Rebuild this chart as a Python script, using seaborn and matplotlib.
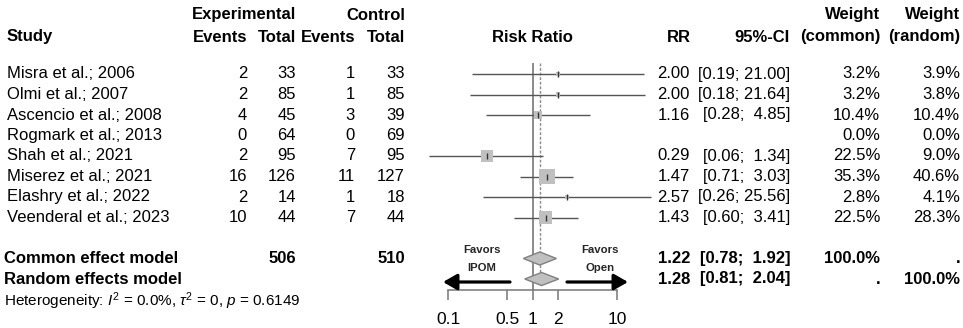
import numpy as np
import matplotlib
matplotlib.use("Agg")
import matplotlib.pyplot as plt
import matplotlib.transforms as mtransforms
import seaborn as sns

# ---------------- data ----------------
studies = ["Misra et al.; 2006", "Olmi et al.; 2007", "Ascencio et al.; 2008",
           "Rogmark et al.; 2013", "Shah et al.; 2021", "Miserez et al.; 2021",
           "Elashry et al.; 2022", "Veenderal et al.; 2023"]
ev_exp = [2, 2, 4, 0, 2, 16, 2, 10]
n_exp = [33, 85, 45, 64, 95, 126, 14, 44]
ev_ctrl = [1, 1, 3, 0, 7, 11, 1, 7]
n_ctrl = [33, 85, 39, 69, 95, 127, 18, 44]
rr = [2.00, 2.00, 1.16, np.nan, 0.29, 1.47, 2.57, 1.43]
ci_lo = [0.19, 0.18, 0.28, np.nan, 0.06, 0.71, 0.26, 0.60]
ci_hi = [21.00, 21.64, 4.85, np.nan, 1.34, 3.03, 25.56, 3.41]
w_common = [3.2, 3.2, 10.4, 0.0, 22.5, 35.3, 2.8, 22.5]
w_random = [3.9, 3.8, 10.4, 0.0, 9.0, 40.6, 4.1, 28.3]
total_exp = 506
total_ctrl = 510
common_est = [1.22, 0.78, 1.92]
random_est = [1.28, 0.81, 2.04]
heterogeneity = r"Heterogeneity: $I^2$ = 0.0%, $\tau^2$ = 0, $p$ = 0.6149"
xticks = [0.1, 0.5, 1, 2, 10]
xticklabels = ["0.1", "0.5", "1", "2", "10"]

# ---------------- style ----------------
sns.set_theme(style="white")
plt.rcParams["font.family"] = ["Liberation Sans", "DejaVu Sans"]
plt.rcParams["mathtext.fontset"] = "custom"
plt.rcParams["mathtext.rm"] = "Liberation Sans"
plt.rcParams["mathtext.it"] = "Liberation Sans:italic"
plt.rcParams["mathtext.bf"] = "Liberation Sans:bold"

W, H = 963, 328
fig = plt.figure(figsize=(W / 100, H / 100), dpi=100)
fig.patch.set_facecolor("white")

row0_px, row_step = 74.0, 20.5
axis_px = 290.0
x_left_px, x_right_px = 448.0, 617.0


def row_of(ypx):
    return (ypx - row0_px) / row_step


ax = fig.add_axes([x_left_px / W, (H - axis_px) / H,
                   (x_right_px - x_left_px) / W, axis_px / H])
ax.set_xscale("log")
ax.set_xlim(0.1, 10)
ax.set_ylim(row_of(axis_px), row_of(0))
ax.set_facecolor("none")
for s in ["top", "left", "right"]:
    ax.spines[s].set_visible(False)
ax.spines["bottom"].set_color("#777777")
ax.spines["bottom"].set_linewidth(1.1)
ax.set_yticks([])
ax.set_xticks(xticks)
ax.set_xticklabels(xticklabels)
ax.xaxis.set_minor_locator(matplotlib.ticker.NullLocator())
ax.tick_params(axis="x", which="major", bottom=True, length=7, width=1.1,
               color="#777777", pad=9, labelsize=12.5, labelcolor="black")

px_per_dec = (x_right_px - x_left_px) / 2.0


def px2x(xpx):
    return 10 ** ((xpx - (x_left_px + x_right_px) / 2) / px_per_dec)


rows = np.arange(len(studies))
rr_a = np.array(rr)
lo_a = np.array(ci_lo)
hi_a = np.array(ci_hi)
wc_a = np.array(w_common)
mask = ~np.isnan(rr_a)

top_row = row_of(63)
# reference line at 1
ax.vlines(1, top_row, row_of(axis_px), color="#777777", lw=1.2, zorder=1, clip_on=False)
# common effect dotted line
ax.vlines(common_est[0], top_row, 10 - 0.32, color="#8a8a8a", lw=1.0,
          linestyles=[(0, (2, 1.3))], zorder=1, clip_on=False)

# CI lines
ax.hlines(rows[mask], lo_a[mask], hi_a[mask], color="#555555", lw=1.0, zorder=2, clip_on=False)

# squares (area proportional to common weight)
side_px = 2.65 * np.sqrt(wc_a[mask])
sizes = (side_px * 0.72) ** 2
sns.scatterplot(x=rr_a[mask], y=rows[mask], s=sizes, marker="s", color="#c0c0c0",
                linewidth=0, ax=ax, legend=False, zorder=3, clip_on=False)
ax.plot(rr_a[mask], rows[mask], ls="", marker="|", ms=5, mew=1.0, color="#333333",
        zorder=4, clip_on=False)

# diamonds
h = 0.32
for r, (est, lo, hi) in [(9, common_est), (10, random_est)]:
    ax.fill([lo, est, hi, est], [r, r - h, r, r + h], facecolor="#c0c0c0",
            edgecolor="#808080", lw=1.0, zorder=3, clip_on=False)

# favours arrows and labels
arr_row = row_of(282)
for tail, tip in [(510, 443), (567, 628)]:
    ax.annotate("", xy=(px2x(tip), arr_row), xytext=(px2x(tail), arr_row),
                arrowprops=dict(arrowstyle="-|>,head_length=0.7,head_width=0.4",
                                lw=2.3, color="black", shrinkA=0, shrinkB=0,
                                mutation_scale=12), annotation_clip=False)
for xc, lab in [(482, "IPOM"), (600, "Open")]:
    ax.text(px2x(xc), row_of(250), "Favors", ha="center", va="center",
            fontsize=8.2, fontweight="bold", clip_on=False)
    ax.text(px2x(xc), row_of(268), lab, ha="center", va="center",
            fontsize=8.2, fontweight="bold", clip_on=False)

# ---------------- text columns ----------------
blend = mtransforms.blended_transform_factory(fig.transFigure, ax.transData)


def put(xpx, row, s, ha="right", bold=False, size=12):
    ax.text(xpx / W, row, s, transform=blend, ha=ha, va="center", fontsize=size,
            fontweight="bold" if bold else "normal", color="black", clip_on=False)


hr1, hr2 = row_of(15), row_of(37)
put(296, hr1, "Experimental", bold=True)
put(405, hr1, "Control", bold=True)
put(880, hr1, "Weight", bold=True)
put(960, hr1, "Weight", bold=True)
put(7, hr2, "Study", ha="left", bold=True)
put(247, hr2, "Events", bold=True)
put(296, hr2, "Total", bold=True)
put(355, hr2, "Events", bold=True)
put(405, hr2, "Total", bold=True)
put(532, hr2, "Risk Ratio", ha="center", bold=True)
put(691, hr2, "RR", bold=True)
put(790, hr2, "95%-CI", bold=True)
put(880, hr2, "(common)", bold=True)
put(960, hr2, "(random)", bold=True)

for i, name in enumerate(studies):
    put(7, i, name, ha="left")
    put(247, i, str(ev_exp[i]))
    put(296, i, str(n_exp[i]))
    put(355, i, str(ev_ctrl[i]))
    put(405, i, str(n_ctrl[i]))
    if not np.isnan(rr[i]):
        put(690, i, f"{rr[i]:.2f}")
        put(790, i, f"[{ci_lo[i]:.2f}; {ci_hi[i]:5.2f}]")
    put(880, i, f"{w_common[i]:.1f}%")
    put(960, i, f"{w_random[i]:.1f}%")

put(4, 9, "Common effect model", ha="left", bold=True)
put(296, 9, str(total_exp), bold=True)
put(405, 9, str(total_ctrl), bold=True)
put(690, 9, f"{common_est[0]:.2f}", bold=True)
put(790, 9, f"[{common_est[1]:.2f}; {common_est[2]:5.2f}]", bold=True)
put(880, 9, "100.0%", bold=True)
put(960, 9, ".", bold=True)

put(4, 10, "Random effects model", ha="left", bold=True)
put(690, 10, f"{random_est[0]:.2f}", bold=True)
put(790, 10, f"[{random_est[1]:.2f}; {random_est[2]:5.2f}]", bold=True)
put(880, 10, ".", bold=True)
put(960, 10, "100.0%", bold=True)

put(4, row_of(301), heterogeneity, ha="left", size=11)

fig.savefig("out.png", dpi=100, facecolor="white")
